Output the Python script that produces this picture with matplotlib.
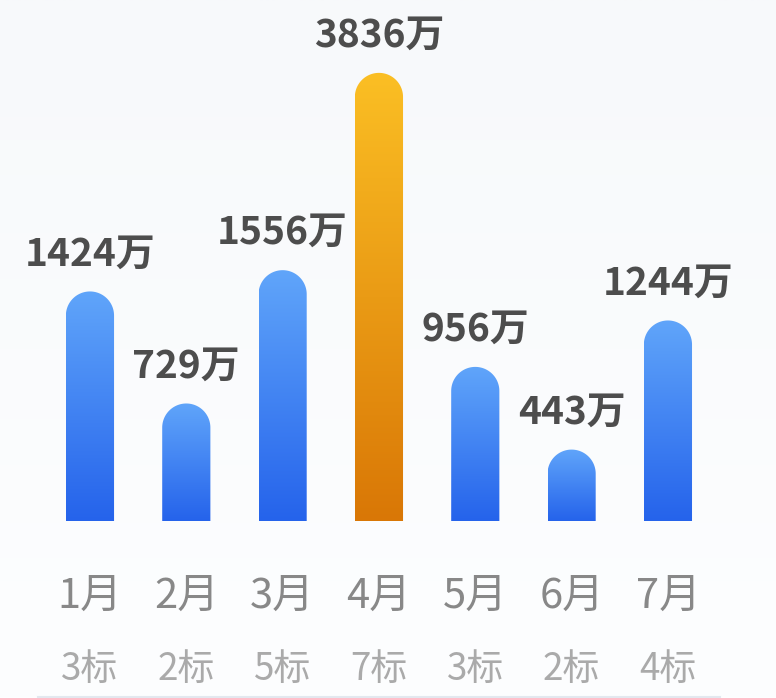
import numpy as np
import matplotlib
matplotlib.use("Agg")
import matplotlib.pyplot as plt
from matplotlib.path import Path
from matplotlib.patches import PathPatch
from matplotlib.colors import LinearSegmentedColormap
from matplotlib.lines import Line2D

plt.rcParams['font.family'] = ['Noto Sans CJK SC', 'DejaVu Sans']

# 数据
months = ['1月', '2月', '3月', '4月', '5月', '6月', '7月']
amounts = [1424, 729, 1556, 3836, 956, 443, 1244]   # 万
bids = [3, 2, 5, 7, 3, 2, 4]                          # 标
highlight = 3                                          # 4月 高亮
bar_cap = 2780   # 最高柱子截断显示

W, H = 776, 698
fig = plt.figure(figsize=(W / 100, H / 100), dpi=100)

# 背景渐变
bg = fig.add_axes([0, 0, 1, 1], zorder=-1)
bg_cmap = LinearSegmentedColormap.from_list('bg', ['#f7f9fb', '#fdfeff'])
bg.imshow(np.linspace(0, 1, 256).reshape(-1, 1), cmap=bg_cmap, aspect='auto',
          extent=[0, 1, 0, 1], origin='upper')
bg.axis('off')

ymax = 2950
px_per_unit = 0.1612
ax_left, ax_w = 41.8, 674.3
ax_base = 521
ax_h = ymax * px_per_unit
ax = fig.add_axes([ax_left / W, (H - ax_base) / H, ax_w / W, ax_h / H])
ax.set_xlim(-0.5, len(months) - 0.5)
ax.set_ylim(0, ymax)
ax.axis('off')

blue = LinearSegmentedColormap.from_list('blue', ['#2563eb', '#60a5fa'])
orange = LinearSegmentedColormap.from_list('orange', ['#d97706', '#fbbf24'])

bar_w = 0.5
px_x = ax_w / len(months)
px_y = ax_h / ymax
rx = bar_w / 2
ry = rx * px_x / px_y
heights = np.minimum(amounts, bar_cap)
grad = np.linspace(0, 1, 256).reshape(-1, 1)

for i, h in enumerate(heights):
    x0, x1 = i - bar_w / 2, i + bar_w / 2
    t = np.linspace(np.pi, 0, 60)
    arc = np.column_stack([i + rx * np.cos(t), h - ry + ry * np.sin(t)])
    verts = np.vstack([[x0, 0], [x0, h - ry], arc, [x1, 0], [x0, 0]])
    codes = [Path.MOVETO] + [Path.LINETO] * (len(verts) - 2) + [Path.CLOSEPOLY]
    patch = PathPatch(Path(verts, codes), facecolor='none', edgecolor='none')
    ax.add_patch(patch)
    cmap = orange if i == highlight else blue
    im = ax.imshow(grad, cmap=cmap, origin='lower', aspect='auto',
                   extent=[x0, x1, 0, h], interpolation='bilinear')
    im.set_clip_path(patch)

    ax.annotate(f'{amounts[i]}万', xy=(i, h), xytext=(0, 18.7), textcoords='offset points',
                ha='center', va='baseline', fontsize=28, fontweight='bold',
                color='#4d4d4d', annotation_clip=False)
    ax.annotate(months[i], xy=(i, 0), xytext=(0, -62.6), textcoords='offset points',
                ha='center', va='baseline', fontsize=30, color='#888888',
                annotation_clip=False)
    ax.annotate(f'{bids[i]}标', xy=(i, 0), xytext=(0, -114.5), textcoords='offset points',
                ha='center', va='baseline', fontsize=26.5, color='#aaaaaa',
                annotation_clip=False)

ax.set_xlim(-0.5, len(months) - 0.5)
ax.set_ylim(0, ymax)

# 底部分隔线
fig.add_artist(Line2D([38 / W, 720 / W], [1.2 / H, 1.2 / H], color='#e3e8ef', lw=1.5))

fig.savefig('out.png', dpi=100)
